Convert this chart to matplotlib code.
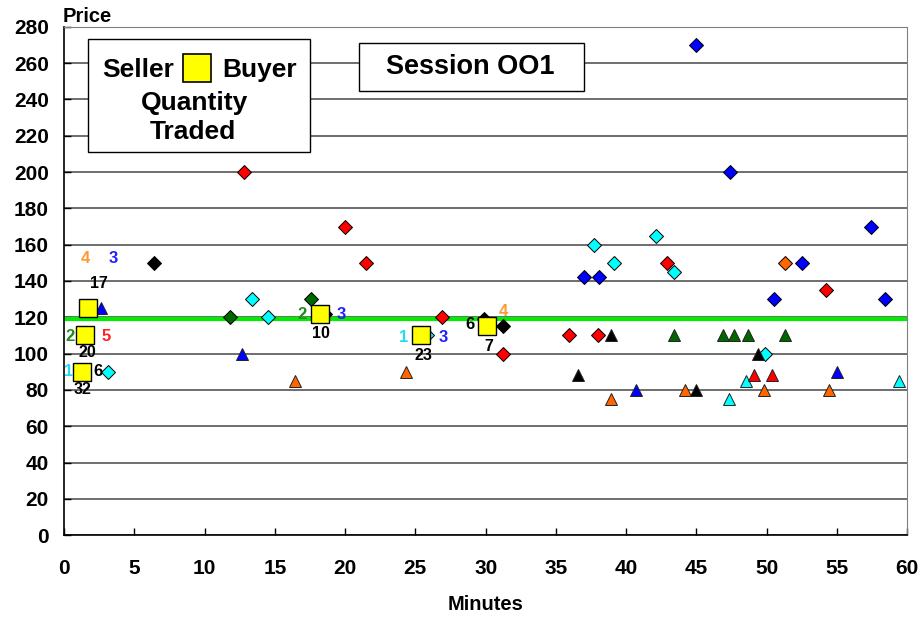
import matplotlib
matplotlib.use("Agg")
import matplotlib.pyplot as plt
from matplotlib.patches import Rectangle

plt.rcParams['font.family'] = ['Liberation Sans', 'DejaVu Sans']
plt.rcParams['font.weight'] = 'bold'

# colour of each trader (1..6)
MARKER_COLORS = {1: '#00FFFF', 2: '#006600', 3: '#0000FF', 4: '#FF6600', 5: '#FF0000', 6: '#000000'}
LABEL_COLORS = {1: '#22DDF0', 2: '#228B22', 3: '#1F1FFF', 4: '#FF9933', 5: '#FF2222', 6: '#000000'}

# asks (diamonds) per trader: minutes, price
ask_x = {
    1: [3.1, 13.4, 14.5, 25.8, 37.7, 39.1, 42.1, 43.4, 49.9],
    2: [11.8, 17.6],
    3: [37.0, 38.1, 45.0, 47.4, 50.5, 52.5, 57.4, 58.4],
    4: [51.3],
    5: [12.8, 20.0, 21.5, 26.9, 31.2, 35.9, 38.0, 42.9, 54.2],
    6: [6.4, 18.6, 29.9, 31.2],
}
ask_y = {
    1: [90, 130, 120, 110, 160, 150, 165, 145, 100],
    2: [120, 130],
    3: [142, 142, 270, 200, 130, 150, 170, 130],
    4: [150],
    5: [200, 170, 150, 120, 100, 110, 110, 150, 135],
    6: [150, 122, 119, 115],
}

# bids (triangles) per trader
bid_x = {
    1: [47.3, 48.5, 59.4],
    2: [43.4, 46.9, 47.7, 48.7, 51.3],
    3: [2.6, 12.7, 40.7, 55.0],
    4: [16.4, 24.3, 38.9, 44.2, 49.8, 54.4],
    5: [49.1, 50.4],
    6: [36.6, 38.9, 45.0, 49.4],
}
bid_y = {
    1: [75, 85, 85],
    2: [110, 110, 110, 110, 110],
    3: [125, 100, 80, 90],
    4: [85, 90, 75, 80, 80, 80],
    5: [88, 88],
    6: [88, 110, 80, 100],
}

# trades
trade_x = [1.3, 1.5, 1.7, 18.2, 25.4, 30.1]
trade_y = [90, 110, 125, 122, 110, 115]
trade_qty = [32, 20, 17, 10, 23, 7]
trade_seller = [1, 2, 4, 2, 1, 6]
trade_buyer = [6, 5, 3, 3, 3, 4]

equilibrium = 119

# label offsets in pixels (seller, buyer, quantity)
seller_off = [(-14, 0), (-15, -1), (-3, 50), (-18, -1), (-17, -2), (-17, 2)]
buyer_off = [(16, 0), (21, -1), (25, 50), (21, -1), (22, -2), (16, 15)]
qty_off = [(0, -18), (2, -17), (11, 25), (1, -20), (2, -20), (2, -20)]

W, H = 919, 618
fig = plt.figure(figsize=(W / 100, H / 100), dpi=100)
ax = fig.add_axes([64 / W, 1 - 535.3 / H, (907.3 - 64) / W, (535.3 - 26.7) / H])

ax.set_xlim(0, 60)
ax.set_ylim(0, 280)
ax.set_xticks(range(0, 61, 5))
ax.set_yticks(range(0, 281, 20))
ax.tick_params(direction='in', length=5, width=1, labelsize=15, color='black')
ax.tick_params(axis='x', pad=17)
ax.tick_params(axis='y', pad=11)
ax.yaxis.grid(True, color='#555555', lw=1.2, zorder=0)
ax.set_axisbelow(True)
for s in ['top', 'right']:
    ax.spines[s].set_color('#808080')
for s in ['left', 'bottom']:
    ax.spines[s].set_color('black')
    ax.spines[s].set_linewidth(1.2)

ax.axhline(equilibrium, color='#00EE00', lw=3, zorder=2)

for t in ask_x:
    ax.plot(ask_x[t], ask_y[t], ls='none', marker='D', ms=6.8, mfc=MARKER_COLORS[t],
            mec='black', mew=0.7, zorder=3)
for t in bid_x:
    ax.plot(bid_x[t], bid_y[t], ls='none', marker='^', ms=9, mfc=MARKER_COLORS[t],
            mec='#222222', mew=0.7, zorder=3)

ax.plot(trade_x, trade_y, ls='none', marker='s', ms=13.2, mfc='#FFFF00',
        mec='black', mew=1, zorder=4)

for i in range(len(trade_x)):
    xy = (trade_x[i], trade_y[i])
    ax.annotate(str(trade_seller[i]), xy, xytext=seller_off[i], textcoords='offset pixels',
                ha='center', va='center', fontsize=12, color=LABEL_COLORS[trade_seller[i]], zorder=5)
    ax.annotate(str(trade_buyer[i]), xy, xytext=buyer_off[i], textcoords='offset pixels',
                ha='center', va='center', fontsize=12, color=LABEL_COLORS[trade_buyer[i]], zorder=5)
    ax.annotate(str(trade_qty[i]), xy, xytext=qty_off[i], textcoords='offset pixels',
                ha='center', va='center', fontsize=11.5, color='black', zorder=5)

ax.set_xlabel('Minutes', fontsize=14.5, fontweight='bold', labelpad=12)
fig.text(63 / W, 1 - 16 / H, 'Price', fontsize=14.5, ha='left', va='center')


def fp(x, y):
    return (x / W, 1 - y / H)


# legend box
fig.patches.append(Rectangle(fp(88.3, 152.3), (310 - 88.3) / W, (152.3 - 38.7) / H,
                             transform=fig.transFigure, fc='white', ec='black', lw=1))
fig.text(*fp(138, 70), 'Seller', fontsize=19, ha='center', va='center')
fig.text(*fp(260, 70), 'Buyer', fontsize=19, ha='center', va='center')
fig.add_artist(plt.Line2D([196.7 / W], [1 - 68 / H], transform=fig.transFigure, marker='s',
                          ms=20, mfc='#FFFF00', mec='black', mew=1.2, ls='none'))
fig.text(*fp(195, 103), 'Quantity', fontsize=19, ha='center', va='center')
fig.text(*fp(193, 132), 'Traded', fontsize=19, ha='center', va='center')

# session box
fig.patches.append(Rectangle(fp(359, 91), (583.7 - 359) / W, (91 - 43.3) / H,
                             transform=fig.transFigure, fc='white', ec='black', lw=1))
fig.text(*fp(470, 67), 'Session OO1', fontsize=19.5, ha='center', va='center')

plt.savefig('out.png', dpi=100)
